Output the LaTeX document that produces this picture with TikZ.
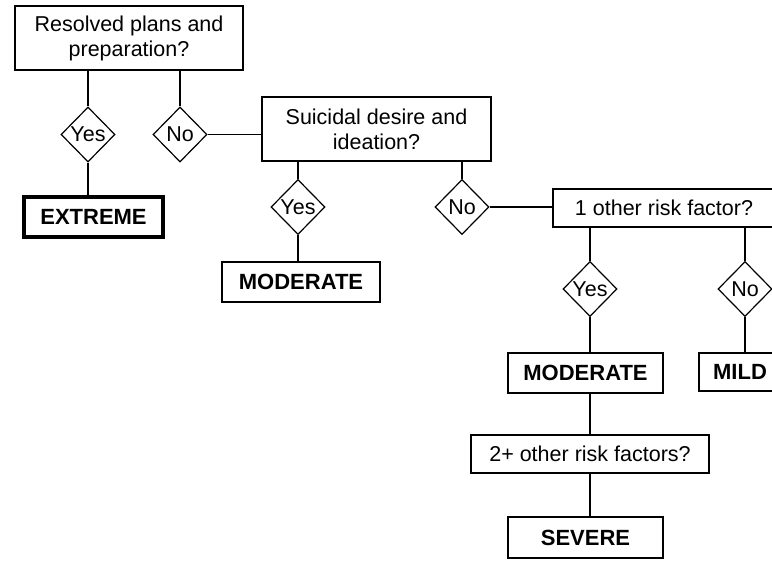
\documentclass[tikz,border=0pt]{standalone}
\usepackage{fontspec}
\setmainfont{Liberation Sans}
\usetikzlibrary{shapes.geometric}
\tikzset{
every node/.style={font=\fontsize{21.5}{25}\selectfont}, % text size for every box
question/.style={draw, line width=1.2pt, minimum height=38pt, inner sep=0pt, align=center}, % plain question boxes
answer/.style={draw, diamond, line width=1.2pt, minimum width=54pt, minimum height=55pt, inner sep=0pt}, % yes / no diamonds
level/.style={draw, line width=2.4pt, minimum height=40pt, inner sep=0pt, font=\fontsize{22}{25}\selectfont\bfseries}, % risk level boxes
link/.style={line width=1.2pt}, % plain connectors
}

\begin{document}
\begin{tikzpicture}[x=1pt, y=-1pt]
                \useasboundingbox (0,0) rectangle (772,562);
                \clip (0,0) rectangle (772,562);
                % questions
                \node[question, minimum width=228pt, minimum height=64pt] (q1) at (129,38) {Resolved plans and\\preparation?};
                \node[question, minimum width=229pt, minimum height=64pt] (q2) at (376.5,129) {Suicidal desire and\\ideation?};
                \node[question, minimum width=222pt] (q3) at (664,208) {1 other risk factor?};
                \node[question, minimum width=238pt] (q4) at (590,454) {2+ other risk factors?};
                % answers
                \node[answer] (y1) at (88,134.5) {Yes};
                \node[answer] (n1) at (180,134.5) {No};
                \node[answer] (y2) at (298,207) {Yes};
                \node[answer] (n2) at (462,207) {No};
                \node[answer] (y3) at (590,289) {Yes};
                \node[answer] (n3) at (745,289) {No};
                % levels
                \node[level, line width=3.5pt, minimum width=139pt] (extreme) at (93.5,217) {EXTREME};
                \node[level, minimum width=158pt] (mod1) at (301,282) {MODERATE};
                \node[level, minimum width=155pt] (mod2) at (585.5,373) {MODERATE};
                \node[level, minimum width=82pt, minimum height=38pt] (mild) at (740,372) {MILD};
                \node[level, minimum width=155pt, minimum height=41pt] (severe) at (585.5,537.5) {SEVERE};
                \draw[link]
                    (y1.north |- q1.south) -- (y1.north)
                    (n1.north |- q1.south) -- (n1.north)
                    (y1.south) -- (y1.south |- extreme.north)
                    (n1.east) -- (n1.east -| q2.west)
                    (y2.north |- q2.south) -- (y2.north)
                    (n2.north |- q2.south) -- (n2.north)
                    (y2.south) -- (y2.south |- mod1.north)
                    (n2.east) -- (n2.east -| q3.west)
                    (y3.north |- q3.south) -- (y3.north)
                    (n3.north |- q3.south) -- (n3.north)
                    (y3.south) -- (y3.south |- mod2.north)
                    (n3.south) -- (n3.south |- mild.north)
                    (q4.north |- mod2.south) -- (q4.north)
                    (q4.south) -- (q4.south |- severe.north)
                    ;
                \end{tikzpicture}
\end{document}
